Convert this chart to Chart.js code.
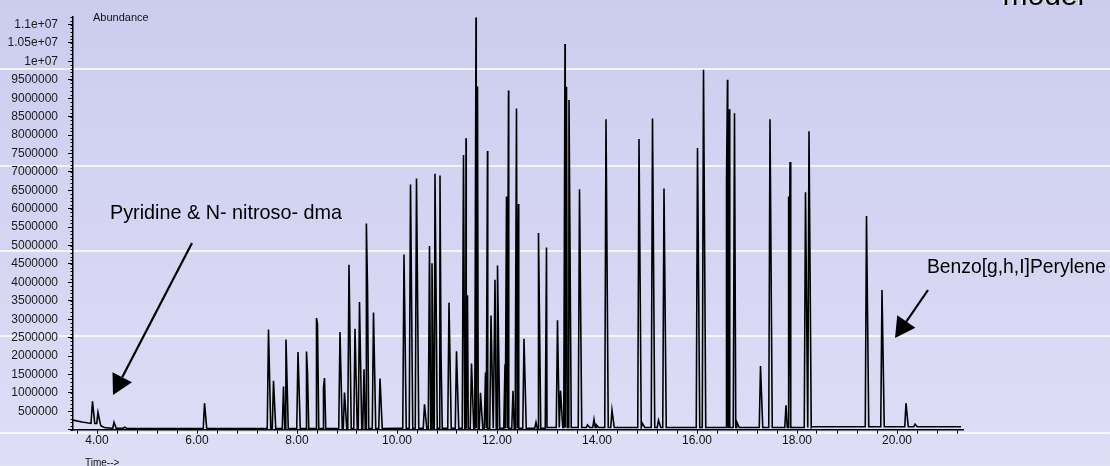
<!DOCTYPE html>
<html>
<head>
<meta charset="utf-8">
<script src="https://cdn.jsdelivr.net/npm/chart.js@4.4.1/dist/chart.umd.min.js"></script>
<style>
html,body{margin:0;padding:0;background:#d6d6f2;overflow:hidden;}
#wrap{position:relative;width:1110px;height:466px;}
canvas{display:block;}
</style>
</head>
<body>
<div id="wrap"><canvas id="c" width="1110" height="466"></canvas></div>
<script>
// ---- data (time in minutes, abundance in counts) ----
const peakTime = [
  3.91, 4.02, 4.34, 4.55, 6.15,
  7.43, 7.53, 7.73, 7.78, 8.02, 8.19, 8.21, 8.39, 8.41, 8.53, 8.55,
  8.86, 8.95, 9.04, 9.16, 9.25, 9.34, 9.39, 9.41, 9.53, 9.66,
  10.14, 10.27, 10.39, 10.55, 10.65, 10.70, 10.76, 10.86, 10.88, 11.04, 11.19,
  11.33, 11.38, 11.41, 11.49, 11.58, 11.61, 11.67, 11.77, 11.81, 11.88, 11.96, 12.01,
  12.16, 12.19, 12.23, 12.32, 12.37, 12.39, 12.43, 12.54, 12.78, 12.83, 12.99,
  13.21, 13.27, 13.36, 13.39, 13.44, 13.65, 13.81, 13.94, 13.99,
  14.18, 14.30, 14.84, 14.91, 15.11, 15.23, 15.34,
  16.01, 16.13, 16.59, 16.61, 16.64, 16.75, 16.80,
  17.27, 17.46, 17.78, 17.83, 17.86, 18.17, 18.24,
  19.39, 19.70, 20.18, 20.36
];
const peakHeight = [
  770000, 470000, 200000, 70000, 720000,
  2720000, 1330000, 1170000, 2450000, 2110000, 2120000, 1550000, 3030000, 2870000, 1150000, 1400000,
  2650000, 1010000, 4480000, 2740000, 3470000, 1640000, 5600000, 3880000, 3180000, 1390000,
  4760000, 6660000, 6820000, 690000, 4990000, 4520000, 6950000, 6900000, 2090000, 3450000, 2130000,
  7460000, 7910000, 3650000, 1800000, 11200000, 9320000, 1000000, 1550000, 7570000, 3100000, 4070000, 4460000,
  1780000, 6330000, 9210000, 1060000, 1690000, 8720000, 6130000, 2470000, 200000, 5340000, 4950000,
  2970000, 1060000, 10470000, 9310000, 8950000, 6530000, 130000, 280000, 130000,
  8430000, 530000, 7890000, 170000, 8450000, 260000, 6550000,
  7650000, 9770000, 6750000, 9500000, 8700000, 8590000, 200000,
  1730000, 8430000, 660000, 6330000, 7270000, 6450000, 8100000,
  5800000, 3790000, 720000, 150000
];
const baseTime  = [3.52, 3.70, 3.88, 4.08, 4.15, 4.30, 6.00, 10.00, 13.00, 18.30, 21.28];
const baseLevel = [260000, 210000, 170000, 100000, 60000, 40000, 30000, 40000, 60000, 80000, 80000];
const xLabelTimes = [4, 6, 8, 10, 12, 14, 16, 18, 20];
const yTicks = [0, 500000, 1000000, 1500000, 2000000, 2500000, 3000000, 3500000, 4000000,
  4500000, 5000000, 5500000, 6000000, 6500000, 7000000, 7500000, 8000000, 8500000,
  9000000, 9500000, 10000000, 10500000, 11000000];
const yTickLabels = ['', '500000', '1000000', '1500000', '2000000', '2500000', '3000000',
  '3500000', '4000000', '4500000', '5000000', '5500000', '6000000', '6500000', '7000000',
  '7500000', '8000000', '8500000', '9000000', '9500000', '1e+07', '1.05e+07', '1.1e+07'];

// ---- build the trace table for the library ----
function baseAt(t){
  let v = baseLevel[0];
  for (let i = 0; i < baseTime.length; i++) if (baseTime[i] <= t) v = baseLevel[i];
  return v;
}
const trace = baseTime.map((t, i) => ({x: t, y: baseLevel[i]}));
peakTime.forEach((t, i) => {
  trace.push({x: t - 0.025, y: baseAt(t - 0.025)});
  trace.push({x: t, y: peakHeight[i]});
  trace.push({x: t + 0.045, y: baseAt(t + 0.045)});
});
trace.sort((a, b) => a.x - b.x);

const FONT = "'Liberation Sans', Arial, Helvetica, sans-serif";

const backdrop = {
  id: 'backdrop',
  beforeDraw(chart){
    const ctx = chart.ctx, W = chart.width, H = chart.height;
    ctx.save();
    const g = ctx.createLinearGradient(0, 0, 0, H);
    g.addColorStop(0, 'rgb(204,204,239)');
    g.addColorStop(1, 'rgb(222,222,247)');
    ctx.fillStyle = g;
    ctx.fillRect(0, 0, W, H);
    ctx.strokeStyle = '#ffffff';
    ctx.lineWidth = 1.5;
    [69, 166, 251, 336, 433].forEach(y => {
      ctx.beginPath(); ctx.moveTo(0, y); ctx.lineTo(W, y); ctx.stroke();
    });
    ctx.restore();
  }
};

function arrow(ctx, x1, y1, x2, y2, head, half){
  const a = Math.atan2(y2 - y1, x2 - x1);
  const bx = x2 - Math.cos(a) * head, by = y2 - Math.sin(a) * head;
  ctx.beginPath(); ctx.moveTo(x1, y1); ctx.lineTo(bx, by); ctx.stroke();
  ctx.beginPath();
  ctx.moveTo(x2, y2);
  ctx.lineTo(bx + Math.sin(a) * half, by - Math.cos(a) * half);
  ctx.lineTo(bx - Math.sin(a) * half, by + Math.cos(a) * half);
  ctx.closePath(); ctx.fill();
}

const decor = {
  id: 'decor',
  afterDraw(chart){
    const ctx = chart.ctx;
    const ys = chart.scales.y;
    ctx.save();
    // minor y ticks
    ctx.strokeStyle = '#000'; ctx.lineWidth = 1;
    const xa = ys.right;
    for (let v = 0; v <= ys.max + 1; v += 100000) {
      const p = Math.round(ys.getPixelForValue(v)) + 0.5;
      ctx.beginPath(); ctx.moveTo(xa - 2.5, p); ctx.lineTo(xa, p); ctx.stroke();
    }
    ctx.fillStyle = '#111';
    ctx.textBaseline = 'middle'; ctx.textAlign = 'left';
    ctx.font = '11px ' + FONT;
    ctx.fillText('Abundance', 93, 18);
    ctx.font = '10px ' + FONT;
    ctx.fillText('Time-->', 85, 463);
    ctx.fillStyle = '#000';
    ctx.font = '19.8px ' + FONT;
    ctx.fillText('Pyridine & N- nitroso- dma', 110, 214);
    ctx.font = '19.3px ' + FONT;
    ctx.fillText('Benzo[g,h,I]Perylene', 927, 268);
    ctx.strokeStyle = '#000'; ctx.fillStyle = '#000'; ctx.lineWidth = 2.2;
    arrow(ctx, 192, 243, 113, 395, 20, 11);
    arrow(ctx, 928, 290, 895, 338, 20, 11);
    // clipped title fragment at top right
    ctx.font = '30px ' + FONT;
    ctx.textBaseline = 'alphabetic';
    ctx.fillStyle = '#ffffff';
    ctx.fillText('model', 1001, 4);
    ctx.fillStyle = '#000';
    ctx.fillText('model', 1002.5, 5);
    ctx.restore();
  }
};

new Chart(document.getElementById('c'), {
  type: 'scatter',
  data: {
    datasets: [{
      data: trace,
      showLine: true,
      borderColor: '#000',
      borderWidth: 1.6,
      pointRadius: 0,
      tension: 0,
      fill: false
    }]
  },
  options: {
    responsive: false,
    animation: false,
    devicePixelRatio: 1,
    layout: {padding: {top: 11.6, right: 147, left: 0, bottom: 0}},
    plugins: {legend: {display: false}, tooltip: {enabled: false}},
    scales: {
      x: {
        type: 'linear', min: 3.52, max: 21.32,
        afterFit(s){ s.height = 36.3; },
        border: {display: true, color: '#000', width: 1.5},
        grid: {display: true, drawOnChartArea: false, drawTicks: true, tickLength: 4, color: '#000', lineWidth: 1},
        ticks: {
          stepSize: 0.4, includeBounds: false, autoSkip: false, maxTicksLimit: 200, maxRotation: 0, padding: 0,
          color: '#111', font: {family: FONT, size: 12},
          callback(v){
            const k = xLabelTimes.find(t => Math.abs(t - v) < 1e-6);
            return k === undefined ? '' : k.toFixed(2);
          }
        }
      },
      y: {
        type: 'linear', min: 0, max: 11200000,
        afterFit(s){ s.width = 73; },
        afterBuildTicks(s){ s.ticks = yTicks.map(v => ({value: v})); },
        border: {display: true, color: '#000', width: 1.5},
        grid: {display: true, drawOnChartArea: false, drawTicks: true, tickLength: 5, color: '#000', lineWidth: 1},
        ticks: {
          autoSkip: false, padding: 10,
          color: '#1a1a1a', font: {family: FONT, size: 12},
          callback(v){
            const i = yTicks.indexOf(v);
            return i < 0 ? '' : yTickLabels[i];
          }
        }
      }
    }
  },
  plugins: [backdrop, decor]
});
</script>
</body>
</html>
